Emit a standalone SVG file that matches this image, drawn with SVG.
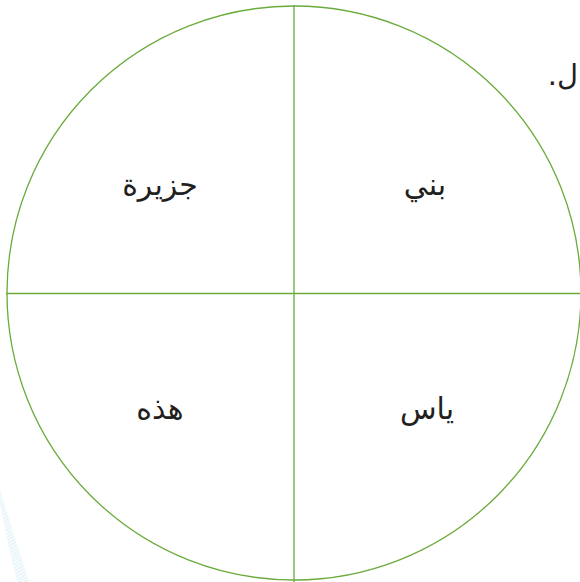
<svg xmlns="http://www.w3.org/2000/svg" width="580" height="582" viewBox="0 0 580 582">
<style>
.ln{fill:none;stroke:#6aab3c;stroke-width:1.3}
.lbl{font-family:"DejaVu Sans",sans-serif;font-size:30px;fill:#231f20;text-anchor:middle}
</style>
<defs>
<pattern id="hatch" width="3" height="3" patternUnits="userSpaceOnUse" patternTransform="rotate(60)">
<rect width="3" height="3" fill="#f6fbfd"/>
<line x1="0" y1="0" x2="0" y2="3" stroke="#d6ebf5" stroke-width="1.1"/>
</pattern>
</defs>
<rect width="580" height="582" fill="#fff"/>
<path d="M0,490 Q14,535 29,582 L17,582 Q8,545 0,505 Z" fill="url(#hatch)"/>
<g id="connectors">
<circle class="ln" cx="294" cy="293" r="287"/>
<line class="ln" x1="294" y1="5" x2="294" y2="582"/>
<line class="ln" x1="6" y1="293.5" x2="580" y2="293.5"/>
</g>
<g id="n1"><text class="lbl" x="160" y="195">جزيرة</text></g>
<g id="n2"><text class="lbl" x="425" y="195">بني</text></g>
<g id="n3"><text class="lbl" x="160" y="419">هذه</text></g>
<g id="n4"><text class="lbl" x="427" y="419">ياس</text></g>
<g id="note"><text x="578" y="85" direction="rtl" style="font-family:'DejaVu Sans',sans-serif;font-size:29px;fill:#231f20;direction:rtl;unicode-bidi:embed" text-anchor="start">ل.</text></g>
</svg>
